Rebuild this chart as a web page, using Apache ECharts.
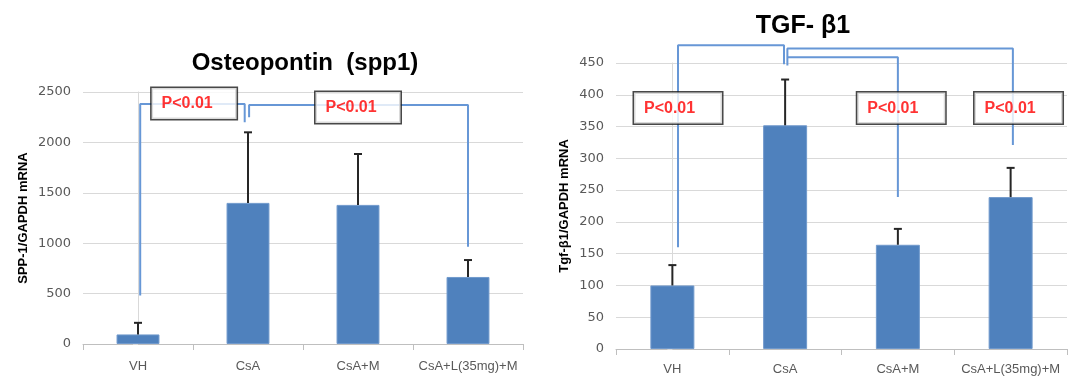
<!DOCTYPE html>
<html>
<head>
<meta charset="utf-8">
<script src="https://cdn.jsdelivr.net/npm/echarts@6/dist/echarts.min.js"></script>
<style>
  html, body { margin: 0; padding: 0; background: #fff; }
  #chart { width: 1077px; height: 378px; }
</style>
</head>
<body>
<div id="chart"></div>
<script>
// groups shared by both panels
const categories = ['VH', 'CsA', 'CsA+M', 'CsA+L(35mg)+M']

// Osteopontin (spp1): mean and upper error
const sppMean = [95, 1400, 1380, 665]
const sppErr = [115, 700, 505, 168]
const sppTicks = { min: 0, max: 2500, interval: 500 }

// TGF-β1: mean and upper error
const tgfMean = [100, 352, 164, 239]
const tgfErr = [32, 72, 25, 46]
const tgfTicks = { min: 0, max: 450, interval: 50 }

// significance brackets, [group position, value]
const sppBrackets = [
  [[0.02, 480], [0.02, 2380], [0.97, 2380], [0.97, 2200]],
  [[1.01, 2250], [1.01, 2370], [3.0, 2370], [3.0, 965]]
]
const tgfBrackets = [
  [[0.05, 160], [0.05, 478], [0.99, 478], [0.99, 448]],
  [[1.02, 446], [1.02, 473], [3.02, 473], [3.02, 321]],
  [[1.02, 459], [2.0, 459], [2.0, 239]]
]
// p-value boxes, [group position, value]
const sppLabels = [[0.51, 2386], [2.0, 2346]]
const tgfLabels = [[0.05, 379], [2.03, 379], [3.07, 379]]
const pText = 'P<0.01'

const BAR = '#4f81bd'
const LINK = '#6797d6'
const GRID_C = '#d9d9d9'
const TXT = '#595959'

const chart = echarts.init(document.getElementById('chart'))

function errRender(params, api) {
  const x = api.value(0)
  const top = api.coord([x, api.value(2)])
  const base = api.coord([x, api.value(1)])
  const st = { stroke: '#262626', lineWidth: 2 }
  return {
    type: 'group',
    children: [
      { type: 'line', shape: { x1: base[0], y1: base[1], x2: top[0], y2: top[1] }, style: st },
      { type: 'line', shape: { x1: top[0] - 4, y1: top[1], x2: top[0] + 4, y2: top[1] }, style: st }
    ]
  }
}

function catAxis(gi, margin) {
  return {
    type: 'category', gridIndex: gi, data: categories,
    axisLine: { lineStyle: { color: '#bfbfbf', width: 1 } },
    axisTick: { show: true, length: 6, lineStyle: { color: '#bfbfbf' } },
    axisLabel: { color: TXT, fontSize: 13, fontFamily: 'Liberation Sans', margin: margin, interval: 0 }
  }
}

function posAxis(gi) {
  return { type: 'value', gridIndex: gi, min: -0.5, max: 3.5, show: false }
}

function valAxis(gi, ticks, name, gap) {
  return {
    type: 'value', gridIndex: gi,
    min: ticks.min, max: ticks.max, interval: ticks.interval,
    name: name, nameLocation: 'middle', nameGap: gap,
    nameTextStyle: { color: '#000', fontSize: 13, fontWeight: 'bold', fontFamily: 'Liberation Sans' },
    axisLine: { show: true, lineStyle: { color: GRID_C } },
    axisTick: { show: true, length: 5, lineStyle: { color: GRID_C } },
    axisLabel: { color: TXT, fontSize: 13, fontFamily: 'DejaVu Sans', margin: 12, formatter: v => String(v) },
    splitLine: { lineStyle: { color: GRID_C, width: 1 } }
  }
}

function panelSeries(gi, mean, err, brackets, labels, boxW) {
  const out = []
  out.push({
    type: 'bar', xAxisIndex: gi, yAxisIndex: gi, data: mean, barWidth: '39%',
    itemStyle: { color: BAR, borderColor: '#7099cc', borderWidth: 1 }, z: 2
  })
  out.push({
    type: 'custom', xAxisIndex: gi, yAxisIndex: gi, renderItem: errRender,
    encode: { x: 0, y: [1, 2] }, clip: false,
    data: mean.map((m, i) => [i, m, m + err[i]]), z: 3
  })
  brackets.forEach(b => {
    out.push({
      type: 'line', xAxisIndex: gi + 2, yAxisIndex: gi, data: b, symbol: 'none',
      lineStyle: { color: LINK, width: 2 }, z: 4, silent: true, clip: false
    })
  })
  out.push({
    type: 'scatter', xAxisIndex: gi + 2, yAxisIndex: gi, data: labels,
    symbolSize: 1, itemStyle: { color: 'rgba(0,0,0,0)' }, z: 10, clip: false,
    label: {
      show: true, position: 'inside', formatter: pText,
      color: '#ff0000', fontWeight: 'bold', fontSize: 16, fontFamily: 'Liberation Sans',
      backgroundColor: '#fff', borderColor: '#1a1a1a', borderWidth: 1.5,
      align: 'left', width: boxW - 12, height: 19, lineHeight: 19,
      padding: [6, 2, 6, 10], offset: [-boxW / 2, 0]
    }
  })
  return out
}

chart.setOption({
  animation: false,
  backgroundColor: '#fff',
  title: [
    {
      text: 'Osteopontin  (spp1)', left: 300, top: 46, textAlign: 'center',
      textStyle: { fontSize: 24, fontWeight: 'bold', color: '#000', fontFamily: 'Liberation Sans' }
    },
    {
      text: 'TGF- β1', left: 798, top: 9, textAlign: 'center',
      textStyle: { fontSize: 25, fontWeight: 'bold', color: '#000', fontFamily: 'Liberation Sans' }
    }
  ],
  grid: [
    { left: 83, top: 92, width: 440, height: 252 },
    { left: 616, top: 63, width: 451, height: 286 }
  ],
  xAxis: [catAxis(0, 16), catAxis(1, 14), posAxis(0), posAxis(1)],
  yAxis: [
    valAxis(0, sppTicks, 'SPP-1/GAPDH mRNA', 53),
    valAxis(1, tgfTicks, 'Tgf-β1/GAPDH mRNA', 45)
  ],
  series: [
    ...panelSeries(0, sppMean, sppErr, sppBrackets, sppLabels, 85),
    ...panelSeries(1, tgfMean, tgfErr, tgfBrackets, tgfLabels, 88)
  ]
})
</script>
</body>
</html>
